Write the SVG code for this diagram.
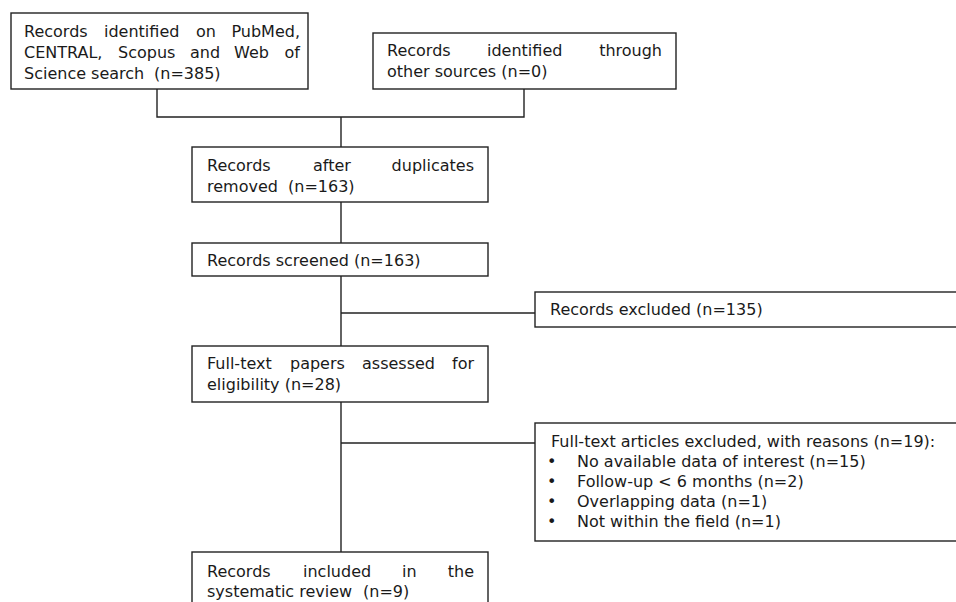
<svg xmlns="http://www.w3.org/2000/svg" width="956" height="602" viewBox="0 0 956 602">
<style>
rect.box{fill:#fff;stroke:#222;stroke-width:1.4}
.conn path{fill:none;stroke:#222;stroke-width:1.4}
text{font-family:"DejaVu Sans","Liberation Sans",sans-serif;font-size:16px;fill:#1a1a1a}
.e{text-anchor:end}
</style>
<rect width="956" height="602" fill="#fff"/>
<g class="conn" id="connectors">
<path d="M157,89 V117 H524 V89"/>
<path d="M341,117 V147"/>
<path d="M341,202 V243"/>
<path d="M341,276 V346"/>
<path d="M341,313 H535"/>
<path d="M341,402 V552"/>
<path d="M341,443 H535"/>
</g>
<g id="n1">
<rect class="box" x="11" y="13" width="297" height="76"/>
<text x="24" y="37">Records</text><text x="104" y="37">identified</text><text x="196" y="37">on</text><text class="e" x="300" y="37">PubMed,</text>
<text x="24" y="58">CENTRAL,</text><text x="118" y="58">Scopus</text><text x="190" y="58">and</text><text x="234" y="58">Web</text><text class="e" x="300" y="58">of</text>
<text x="24" y="79">Science search</text><text x="154" y="79">(n=385)</text>
</g>
<g id="n2">
<rect class="box" x="373" y="33" width="303" height="56"/>
<text x="387" y="56">Records</text><text x="487" y="56">identified</text><text class="e" x="662" y="56">through</text>
<text x="387" y="77">other sources (n=0)</text>
</g>
<g id="n3">
<rect class="box" x="192" y="147" width="296" height="55"/>
<text x="207" y="171">Records</text><text x="313" y="171">after</text><text class="e" x="474" y="171">duplicates</text>
<text x="207" y="192">removed</text><text x="288" y="192">(n=163)</text>
</g>
<g id="n4">
<rect class="box" x="192" y="243" width="296" height="33"/>
<text x="207" y="266">Records screened (n=163)</text>
</g>
<g id="n5">
<rect class="box" x="535" y="292" width="440" height="35"/>
<text x="550" y="315">Records excluded (n=135)</text>
</g>
<g id="n6">
<rect class="box" x="192" y="346" width="296" height="56"/>
<text x="207" y="369">Full-text</text><text x="290" y="369">papers</text><text x="362" y="369">assessed</text><text class="e" x="474" y="369">for</text>
<text x="207" y="390">eligibility (n=28)</text>
</g>
<g id="n7">
<rect class="box" x="535" y="423" width="440" height="118"/>
<text x="551" y="447">Full-text articles excluded, with reasons (n=19):</text>
<text x="547" y="467">•</text><text x="577" y="467">No available data of interest (n=15)</text>
<text x="547" y="487">•</text><text x="577" y="487">Follow-up &lt; 6 months (n=2)</text>
<text x="547" y="507">•</text><text x="577" y="507">Overlapping data (n=1)</text>
<text x="547" y="527">•</text><text x="577" y="527">Not within the field (n=1)</text>
</g>
<g id="n8">
<rect class="box" x="192" y="552" width="296" height="70"/>
<text x="207" y="577">Records</text><text x="303" y="577">included</text><text x="402" y="577">in</text><text class="e" x="474" y="577">the</text>
<text x="207" y="597">systematic review</text><text x="363" y="597">(n=9)</text>
</g>
</svg>
